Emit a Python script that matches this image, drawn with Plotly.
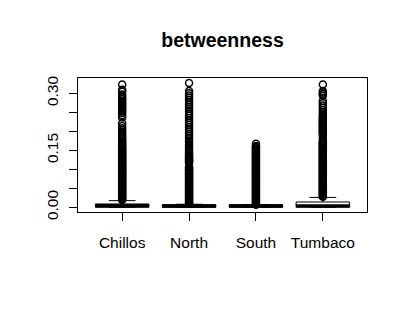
import plotly.graph_objects as go

# ---- data ----
categories = ["Chillos", "North", "South", "Tumbaco"]
q1 = [0.0, 0.0, 0.0, 0.0]
median = [0.0045, 0.003, 0.003, 0.004]
q3 = [0.0087, 0.007, 0.007, 0.014]
lower_fence = [0.0, 0.0, 0.0, 0.0]
upper_fence = [0.0175, 0.008, 0.007, 0.026]

chillos_out = [0.019, 0.021, 0.024, 0.026, 0.029, 0.031, 0.034, 0.036, 0.039, 0.041,
               0.044, 0.046, 0.049, 0.051, 0.054, 0.056, 0.059, 0.061, 0.064, 0.066,
               0.069, 0.071, 0.074, 0.076, 0.079, 0.081, 0.084, 0.086, 0.089, 0.091,
               0.094, 0.096, 0.099, 0.101, 0.104, 0.106, 0.109, 0.111, 0.114, 0.116,
               0.119, 0.121, 0.124, 0.126, 0.129, 0.131, 0.134, 0.136, 0.139, 0.141,
               0.144, 0.146, 0.149, 0.151, 0.154, 0.157, 0.160, 0.163, 0.166, 0.169,
               0.172, 0.176, 0.180, 0.184, 0.188, 0.193, 0.198, 0.203, 0.208, 0.214,
               0.222, 0.236, 0.242, 0.248, 0.252, 0.256, 0.260, 0.264, 0.268, 0.272,
               0.276, 0.280, 0.284, 0.288, 0.292, 0.297, 0.304, 0.309, 0.323]
north_out = [0.009, 0.011, 0.014, 0.016, 0.019, 0.021, 0.024, 0.026, 0.029, 0.031,
             0.034, 0.036, 0.039, 0.041, 0.044, 0.046, 0.049, 0.051, 0.054, 0.056,
             0.059, 0.061, 0.064, 0.066, 0.069, 0.071, 0.074, 0.076, 0.079, 0.081,
             0.084, 0.086, 0.089, 0.091, 0.094, 0.096, 0.099, 0.101, 0.104, 0.106,
             0.116, 0.119, 0.121, 0.124, 0.126, 0.129, 0.131, 0.134, 0.136, 0.139,
             0.143, 0.147, 0.151, 0.156, 0.161, 0.166, 0.171, 0.176, 0.182, 0.188,
             0.193, 0.199, 0.205, 0.211, 0.217, 0.223, 0.229, 0.235, 0.241, 0.247,
             0.253, 0.259, 0.264, 0.270, 0.276, 0.282, 0.288, 0.294, 0.300, 0.306,
             0.327]
south_out = [0.007, 0.009, 0.012, 0.014, 0.017, 0.019, 0.022, 0.024, 0.027, 0.029,
             0.032, 0.034, 0.037, 0.039, 0.042, 0.044, 0.047, 0.049, 0.052, 0.054,
             0.057, 0.059, 0.062, 0.064, 0.067, 0.069, 0.072, 0.074, 0.077, 0.079,
             0.082, 0.084, 0.087, 0.089, 0.092, 0.094, 0.097, 0.099, 0.102, 0.104,
             0.107, 0.109, 0.112, 0.114, 0.117, 0.119, 0.122, 0.124, 0.127, 0.129,
             0.132, 0.134, 0.137, 0.139, 0.142, 0.144, 0.147, 0.149, 0.152, 0.154,
             0.157, 0.159, 0.161, 0.167]
tumbaco_out = [0.028, 0.030, 0.033, 0.035, 0.038, 0.040, 0.043, 0.045, 0.048, 0.050,
               0.053, 0.055, 0.058, 0.060, 0.063, 0.065, 0.068, 0.070, 0.073, 0.075,
               0.078, 0.080, 0.083, 0.085, 0.088, 0.090, 0.093, 0.095, 0.098, 0.100,
               0.103, 0.105, 0.108, 0.110, 0.113, 0.115, 0.118, 0.120, 0.123, 0.125,
               0.128, 0.130, 0.133, 0.135, 0.138, 0.140, 0.143, 0.145, 0.148, 0.150,
               0.153, 0.155, 0.158, 0.160, 0.163, 0.165, 0.168, 0.170, 0.173, 0.175,
               0.183, 0.191, 0.194, 0.197, 0.200, 0.203, 0.206, 0.209, 0.212, 0.215,
               0.218, 0.221, 0.224, 0.227, 0.230, 0.233, 0.236, 0.240, 0.244, 0.250,
               0.256, 0.262, 0.268, 0.274, 0.280, 0.294, 0.298, 0.302, 0.306, 0.323]
outliers = [chillos_out, north_out, south_out, tumbaco_out]

y_tickvals = [0.00, 0.05, 0.10, 0.15, 0.20, 0.25, 0.30]
y_ticktext = ["0.00", "", "", "0.15", "", "", "0.30"]

# ---- figure ----
positions = [i + 1 for i in range(len(categories))]
box_width = 0.8
FONT = "Liberation Sans, Arial, sans-serif"
W, H = 392, 294  # page body adds an 8px offset

fig = go.Figure()
fig.add_trace(go.Box(
    x=positions, q1=q1, median=median, q3=q3,
    lowerfence=lower_fence, upperfence=upper_fence,
    width=box_width, whiskerwidth=0.5, boxpoints=False,
    fillcolor="white", line=dict(color="black", width=1),
    hoverinfo="skip", showlegend=False,
))

mx, my = [], []
for p, m in zip(positions, median):
    mx += [p - box_width / 2, p + box_width / 2, None]
    my += [m, m, None]
fig.add_trace(go.Scatter(x=mx, y=my, mode="lines",
                         line=dict(color="black", width=3.2),
                         hoverinfo="skip", showlegend=False))

for p, vals in zip(positions, outliers):
    fig.add_trace(go.Scatter(
        x=[p] * len(vals), y=vals, mode="markers",
        marker=dict(symbol="circle-open", size=7, color="black",
                    line=dict(color="black", width=1.5)),
        hoverinfo="skip", showlegend=False))

fig.update_layout(
    width=W, height=H,
    margin=dict(l=70, r=33, t=70, b=90),
    paper_bgcolor="white", plot_bgcolor="white",
    font=dict(family=FONT, size=15.5, color="black"),
    title=dict(text="<b>betweenness</b>", x=0.5, xref="paper", xanchor="center",
               y=1 - 32 / H, yref="container", yanchor="middle",
               font=dict(family=FONT, size=19.5, color="black")),
    showlegend=False,
)
fig.update_xaxes(range=[0.34, 4.66], tickvals=positions, ticktext=categories,
                 ticks="outside", ticklen=8, tickcolor="black", tickwidth=1,
                 showline=True, linecolor="black", linewidth=1, mirror=True,
                 showgrid=False, zeroline=False, ticklabelstandoff=8)
fig.update_yaxes(range=[-0.0124, 0.3402], tickvals=y_tickvals, ticktext=y_ticktext,
                 tickangle=-90, ticks="outside", ticklen=8, tickcolor="black",
                 tickwidth=1, showline=True, linecolor="black", linewidth=1,
                 mirror=True, showgrid=False, zeroline=False, ticklabelstandoff=5)

fig.write_html("out.html")
